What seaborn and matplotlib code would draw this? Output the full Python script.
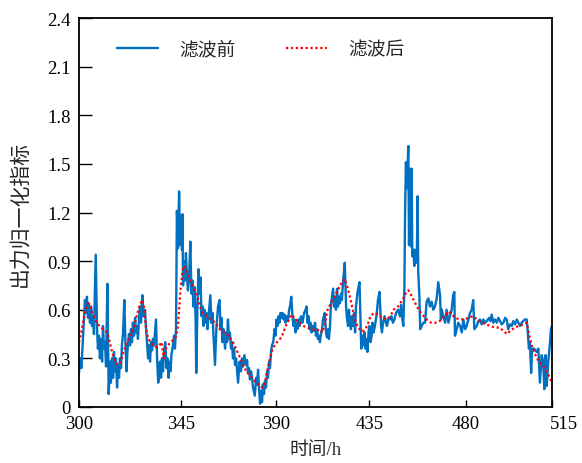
import matplotlib
matplotlib.use("Agg")
import matplotlib.pyplot as plt
import matplotlib.transforms as mtransforms
import seaborn as sns
import pandas as pd

# Normalised output index, before filtering (time in hours)
raw_hours = [
    300.0, 300.5, 301.1, 301.8, 302.3, 302.7, 303.2, 303.6, 304.1, 304.5, 305.0, 305.5, 305.9, 306.4, 306.8,
    307.6, 308.2, 308.6, 309.1, 309.5, 310.0, 310.5, 310.9, 311.4, 311.8, 312.3, 312.9, 313.5, 314.1, 314.5,
    315.0, 315.5, 315.9, 316.4, 316.8, 317.3, 317.7, 318.2, 318.6, 319.1, 319.5, 320.0, 320.6, 321.1, 321.6,
    322.0, 322.7, 323.2, 323.6, 324.1, 324.5, 325.0, 325.5, 325.9, 326.4, 326.8, 327.3, 327.7, 328.2, 328.8,
    329.3, 330.0, 330.5, 330.9, 331.4, 331.8, 332.3, 332.7, 333.2, 333.6, 334.1, 335.0, 335.5, 336.0, 336.4,
    336.8, 337.3, 337.7, 338.2, 338.6, 339.2, 339.8, 340.2, 340.7, 341.1, 341.6, 342.0, 342.7, 343.2, 343.6,
    344.1, 344.5, 345.0, 345.5, 345.9, 346.4, 346.8, 347.0, 347.3, 347.7, 348.2, 348.6, 349.1, 349.5, 350.0,
    350.6, 351.1, 351.6, 352.0, 352.5, 353.0, 353.3, 353.8, 354.3, 354.8, 355.2, 355.7, 356.1, 356.6, 357.0,
    357.5, 358.0, 358.4, 358.9, 359.7, 360.2, 360.7, 361.1, 361.8, 362.5, 363.2, 363.9, 364.3, 364.8, 365.2,
    365.7, 366.4, 366.8, 367.3, 367.7, 368.2, 368.6, 369.1, 369.5, 370.0, 370.5, 370.9, 371.4, 372.3, 373.0,
    373.6, 374.1, 374.5, 375.2, 375.9, 376.4, 376.8, 377.3, 377.7, 378.2, 378.6, 379.1, 379.9, 380.5, 380.9,
    381.4, 381.8, 382.3, 382.7, 383.2, 383.6, 384.1, 384.5, 385.0, 385.5, 385.9, 386.4, 386.8, 387.3, 387.7,
    388.3, 388.9, 389.3, 389.8, 390.2, 390.7, 391.1, 391.6, 392.0, 392.5, 393.0, 393.4, 393.9, 394.3, 395.0,
    395.5, 395.9, 396.5, 397.0, 397.5, 398.0, 398.4, 398.9, 399.3, 399.8, 400.2, 400.9, 401.6, 402.3, 403.0,
    403.4, 403.9, 404.3, 404.8, 405.2, 405.7, 406.1, 406.6, 407.3, 407.7, 408.2, 408.6, 409.1, 409.5, 410.0,
    410.5, 410.9, 411.7, 412.3, 412.7, 413.2, 413.6, 414.1, 414.5, 415.5, 415.9, 416.4, 416.8, 417.3, 417.7,
    418.2, 418.6, 419.1, 419.5, 420.0, 420.8, 421.4, 421.8, 422.3, 422.7, 423.2, 423.6, 424.1, 424.5, 425.0,
    425.5, 425.9, 426.6, 427.5, 428.0, 428.3, 428.9, 429.3, 429.8, 430.2, 430.7, 431.1, 431.6, 432.0, 432.5,
    433.0, 433.4, 433.9, 434.5, 435.2, 435.9, 436.6, 437.3, 437.7, 438.2, 438.9, 439.5, 440.0, 440.7, 441.4,
    442.0, 442.7, 443.4, 444.1, 445.0, 445.9, 446.4, 446.8, 447.4, 447.9, 448.2, 448.6, 449.1, 449.4, 449.7,
    450.0, 450.5, 450.9, 451.2, 451.5, 452.0, 452.4, 452.7, 453.2, 453.6, 453.9, 454.2, 454.7, 455.1, 455.8,
    456.5, 457.3, 458.0, 458.8, 459.5, 460.3, 461.0, 461.8, 462.6, 463.3, 464.1, 464.5, 464.9, 465.6, 466.4,
    467.1, 467.9, 468.6, 469.4, 470.1, 470.6, 470.9, 471.7, 472.4, 473.2, 474.0, 474.7, 475.5, 476.2, 477.0,
    477.7, 478.5, 479.2, 479.7, 480.8, 481.5, 482.3, 483.0, 483.8, 484.6, 485.3, 486.4, 487.0, 487.6, 488.3,
    489.1, 489.9, 490.6, 491.4, 492.1, 492.9, 493.7, 494.4, 495.1, 495.9, 496.7, 497.4, 498.2, 499.0, 499.7,
    500.5, 501.2, 501.9, 502.7, 503.5, 503.9, 504.5, 505.0, 505.5, 506.0, 506.9, 508.0, 508.8, 509.5, 510.3,
    511.0, 511.5, 512.1, 512.6, 513.3, 514.1, 514.5, 515.0,
]
raw_values = [
    0.21, 0.30, 0.24, 0.42, 0.55, 0.66, 0.58, 0.68, 0.55, 0.64, 0.52, 0.62, 0.50, 0.56, 0.45,
    0.94, 0.48, 0.36, 0.44, 0.30, 0.42, 0.28, 0.50, 0.36, 0.40, 0.25, 0.76, 0.08, 0.28, 0.15,
    0.30, 0.18, 0.34, 0.22, 0.30, 0.12, 0.26, 0.18, 0.30, 0.24, 0.38, 0.45, 0.66, 0.40, 0.22,
    0.34, 0.45, 0.38, 0.48, 0.40, 0.52, 0.44, 0.55, 0.46, 0.50, 0.42, 0.55, 0.62, 0.52, 0.69,
    0.56, 0.60, 0.48, 0.40, 0.30, 0.38, 0.28, 0.40, 0.35, 0.42, 0.38, 0.54, 0.30, 0.15, 0.20,
    0.28, 0.18, 0.30, 0.22, 0.34, 0.40, 0.24, 0.30, 0.18, 0.28, 0.22, 0.32, 0.38, 0.44, 0.36,
    0.48, 1.21, 0.98, 1.33, 1.00, 1.18, 0.97, 1.19, 0.75, 0.90, 0.78, 0.95, 0.80, 0.72, 0.78,
    1.02, 0.70, 0.78, 0.62, 0.74, 0.55, 0.21, 0.60, 0.85, 0.70, 0.80, 0.56, 0.62, 0.50, 0.60,
    0.52, 0.58, 0.48, 0.56, 0.69, 0.52, 0.58, 0.45, 0.26, 0.50, 0.62, 0.66, 0.48, 0.55, 0.40,
    0.48, 0.36, 0.46, 0.40, 0.54, 0.42, 0.46, 0.36, 0.40, 0.30, 0.36, 0.26, 0.30, 0.15, 0.28,
    0.22, 0.30, 0.25, 0.32, 0.26, 0.29, 0.21, 0.24, 0.17, 0.22, 0.19, 0.12, 0.07, 0.18, 0.14,
    0.23, 0.12, 0.02, 0.10, 0.03, 0.14, 0.08, 0.16, 0.12, 0.22, 0.18, 0.28, 0.24, 0.34, 0.38,
    0.40, 0.48, 0.44, 0.54, 0.50, 0.56, 0.52, 0.58, 0.55, 0.58, 0.54, 0.57, 0.52, 0.56, 0.53,
    0.60, 0.62, 0.68, 0.56, 0.50, 0.54, 0.46, 0.52, 0.48, 0.54, 0.50, 0.56, 0.52, 0.58, 0.60,
    0.62, 0.52, 0.56, 0.48, 0.52, 0.46, 0.50, 0.47, 0.52, 0.44, 0.48, 0.42, 0.44, 0.40, 0.45,
    0.48, 0.54, 0.58, 0.46, 0.43, 0.48, 0.42, 0.50, 0.63, 0.73, 0.62, 0.68, 0.60, 0.73, 0.62,
    0.68, 0.64, 0.70, 0.66, 0.77, 0.89, 0.62, 0.55, 0.50, 0.60, 0.52, 0.48, 0.56, 0.50, 0.58,
    0.46, 0.62, 0.71, 0.77, 0.50, 0.36, 0.44, 0.38, 0.46, 0.36, 0.42, 0.34, 0.46, 0.50, 0.40,
    0.44, 0.52, 0.46, 0.50, 0.56, 0.66, 0.71, 0.50, 0.46, 0.52, 0.56, 0.52, 0.50, 0.55, 0.54,
    0.56, 0.52, 0.54, 0.58, 0.60, 0.56, 0.63, 0.56, 0.50, 0.73, 1.18, 1.51, 1.35, 1.51, 1.61,
    1.00, 1.47, 0.99, 1.47, 0.93, 0.97, 0.87, 0.97, 0.89, 0.97, 1.30, 0.83, 0.69, 0.48, 0.50,
    0.52, 0.52, 0.65, 0.67, 0.62, 0.65, 0.60, 0.62, 0.67, 0.77, 0.69, 0.54, 0.60, 0.56, 0.52,
    0.60, 0.52, 0.56, 0.60, 0.69, 0.71, 0.44, 0.48, 0.52, 0.50, 0.46, 0.54, 0.48, 0.50, 0.54,
    0.58, 0.60, 0.66, 0.48, 0.50, 0.53, 0.54, 0.51, 0.54, 0.52, 0.53, 0.55, 0.53, 0.57, 0.52,
    0.54, 0.52, 0.55, 0.53, 0.51, 0.52, 0.55, 0.54, 0.48, 0.51, 0.50, 0.53, 0.51, 0.54, 0.52,
    0.50, 0.52, 0.53, 0.54, 0.54, 0.48, 0.36, 0.40, 0.21, 0.36, 0.36, 0.34, 0.36, 0.15, 0.32,
    0.28, 0.11, 0.32, 0.13, 0.28, 0.40, 0.48, 0.50,
]

# Normalised output index, after filtering
filt_hours = [
    300, 301, 302, 303, 304, 305, 306, 307, 308, 310, 312, 313, 314, 315, 316,
    317, 318, 319, 320, 321, 322, 323, 324, 325, 326, 327, 328, 328.8, 329.5, 330.5,
    331.5, 333, 335, 336.5, 337.5, 338.5, 339.5, 341, 342.5, 344, 345, 346, 347, 348, 349,
    350, 351, 352, 353, 354, 355, 356, 357, 358, 360, 362, 364, 366, 368, 370,
    372, 374, 376, 378, 380, 382, 383.5, 384.5, 385.5, 386.5, 388, 390, 392, 394, 396.5,
    398, 400, 402, 404, 406, 408, 409.5, 410.5, 411.5, 413, 414.5, 416, 418, 419.5, 420.8,
    422, 423.5, 425, 426.5, 428, 429.5, 431, 432.5, 434, 436, 438, 440, 441.5, 443, 445,
    447, 448.5, 449.7, 451, 452.5, 454, 456, 458, 460, 462, 464, 466, 468, 469.5, 471,
    473, 475, 477, 479, 481, 483, 485, 487, 489, 491, 493, 494.5, 496, 498, 500,
    502, 503.5, 504.5, 506, 507.5, 509, 511, 513, 515,
]
filt_values = [
    0.40, 0.46, 0.53, 0.60, 0.64, 0.62, 0.58, 0.55, 0.52, 0.49, 0.47, 0.45, 0.40, 0.34, 0.30,
    0.27, 0.26, 0.28, 0.33, 0.37, 0.40, 0.43, 0.46, 0.50, 0.55, 0.60, 0.64, 0.66, 0.62, 0.48,
    0.42, 0.39, 0.37, 0.38, 0.40, 0.30, 0.36, 0.39, 0.41, 0.43, 0.50, 0.70, 0.84, 0.87, 0.84,
    0.80, 0.76, 0.73, 0.70, 0.67, 0.62, 0.58, 0.57, 0.56, 0.54, 0.52, 0.48, 0.46, 0.44, 0.40,
    0.34, 0.28, 0.22, 0.19, 0.16, 0.13, 0.12, 0.15, 0.22, 0.28, 0.36, 0.40, 0.43, 0.50, 0.57,
    0.55, 0.52, 0.50, 0.49, 0.48, 0.47, 0.48, 0.46, 0.50, 0.60, 0.64, 0.68, 0.73, 0.77, 0.79,
    0.74, 0.66, 0.56, 0.50, 0.47, 0.47, 0.50, 0.56, 0.58, 0.57, 0.55, 0.54, 0.56, 0.60, 0.62,
    0.66, 0.70, 0.72, 0.69, 0.65, 0.61, 0.57, 0.54, 0.52, 0.52, 0.53, 0.56, 0.59, 0.57, 0.55,
    0.54, 0.54, 0.55, 0.56, 0.54, 0.52, 0.51, 0.50, 0.49, 0.49, 0.47, 0.45, 0.47, 0.49, 0.50,
    0.51, 0.52, 0.45, 0.37, 0.32, 0.28, 0.25, 0.21, 0.15,
]

x_tick_labels = ["300", "345", "390", "435", "480", "515"]
y_tick_values = [0, 0.3, 0.6, 0.9, 1.2, 1.5, 1.8, 2.1, 2.4]
y_tick_labels = ["0", "0.3", "0.6", "0.9", "1.2", "1.5", "1.8", "2.1", "2.4"]

raw = pd.DataFrame({"t": raw_hours, "v": raw_values})
filt = pd.DataFrame({"t": filt_hours, "v": filt_values})

sns.set_theme(style="white")
plt.rcParams["font.family"] = ["Liberation Serif", "Noto Sans CJK SC"]
plt.rcParams["axes.unicode_minus"] = False

fig = plt.figure(figsize=(5.82, 4.64), dpi=100)
ax = fig.add_axes([79 / 582, 1 - 408 / 464, 473 / 582, 389 / 464])

sns.lineplot(data=raw, x="t", y="v", ax=ax, color="#0070C0", linewidth=1.7,
             estimator=None, sort=False, label="滤波前")
sns.lineplot(data=filt, x="t", y="v", ax=ax, color="#FF0000", linewidth=1.6,
             linestyle=(0, (1, 1.2)), estimator=None, sort=False, label="滤波后")

ax.set_xlim(300, 515)
ax.set_ylim(0, 2.4)
ax.set_xticks([300, 346.4, 389.5, 432.0, 475.9, 515])
ax.set_xticklabels(x_tick_labels)
ax.set_yticks(y_tick_values)
ax.set_yticklabels(y_tick_labels)

ax.tick_params(axis="both", direction="in", labelsize=13.5, colors="black",
               bottom=True, left=True, top=False, right=False)
ax.tick_params(axis="x", length=5, width=1.0, pad=6)
ax.tick_params(axis="y", length=9, width=1.0, pad=6)

# the last hour label sits just past the right frame
last_label = ax.get_xticklabels()[-1]
last_label.set_transform(last_label.get_transform()
                         + mtransforms.ScaledTranslation(0.12, 0, fig.dpi_scale_trans))

for side in ["left", "right", "top", "bottom"]:
    ax.spines[side].set_visible(True)
    ax.spines[side].set_color("black")
    ax.spines[side].set_linewidth(1.3)

ax.set_xlabel("时间/h", fontsize=13.5, labelpad=6)
ax.set_ylabel("出力归一化指标", fontsize=15, labelpad=12)
ax.grid(False)

ax.legend(loc="center", bbox_to_anchor=(0.384, 0.918), ncol=2, frameon=False,
          fontsize=13.5, handlelength=2.2, handletextpad=1.1, columnspacing=2.7,
          borderpad=0)

fig.savefig("out.png", dpi=100)
